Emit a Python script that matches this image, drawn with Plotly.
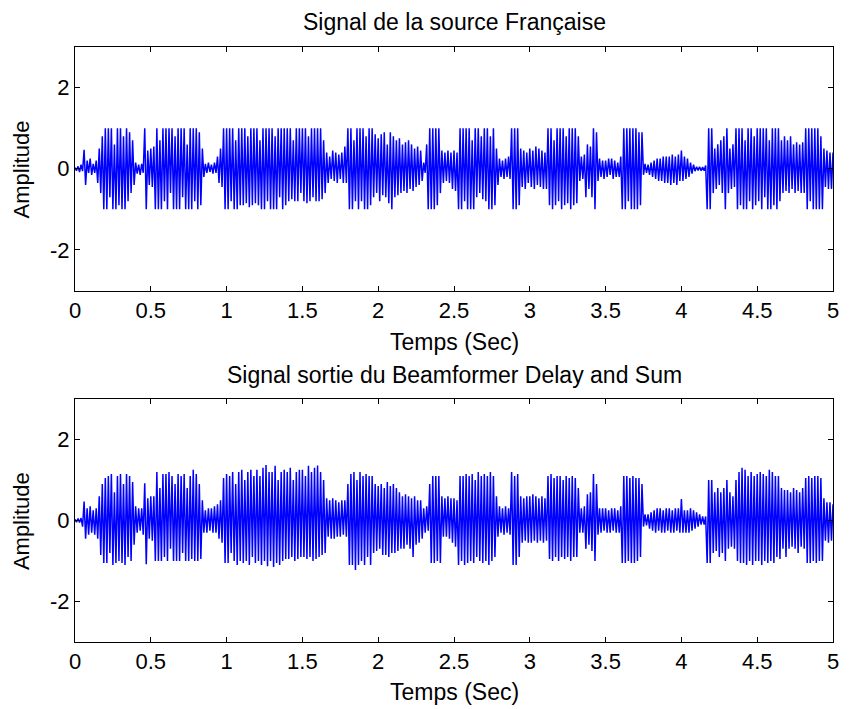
import numpy as np
import plotly.graph_objects as go
from plotly.subplots import make_subplots

# Time axis (seconds), one peak value every 0.01 s
t_step = 0.01
n_pts = 501

# Peak values read from "Signal de la source Française" (one row = 0.1 s)
source_signal = [
    0.03, -0.05, 0.06, -0.08, 0.10, -0.06, 0.47, -0.40, 0.20, -0.10,
    0.25, -0.15, 0.12, -0.10, 0.20, -0.35, 0.50, -0.60, 0.80, -1.0,
    1.0, -1.0, 1.0, -0.7, 1.0, -1.0, 0.6, -1.0, 1.0, -0.9,
    1.0, -1.0, 0.8, -1.0, 1.0, -0.8, 0.9, -0.6, 0.7, -0.4,
    0.15, -0.12, 0.10, -0.15, 0.12, -0.10, 1.0, -1.0, 0.45, -0.40,
    0.50, -0.45, 0.55, -1.0, 1.0, -1.0, 0.7, -1.0, 1.0, -0.8,
    1.0, -1.0, 1.0, -0.6, 1.0, -1.0, 0.8, -1.0, 1.0, -1.0,
    1.0, -0.7, 1.0, -1.0, 0.6, -1.0, 1.0, -1.0, 1.0, -0.8,
    1.0, -1.0, 0.9, -0.9, 0.5, -0.2, 0.12, -0.10, 0.15, -0.08,
    0.10, -0.12, 0.15, -0.10, 0.30, -0.35, 0.50, -0.45, 1.0, -1.0,
    1.0, -1.0, 1.0, -0.8, 1.0, -1.0, 0.7, -1.0, 1.0, -0.9,
    1.0, -0.9, 1.0, -0.85, 0.8, -0.95, 1.0, -0.9, 1.0, -0.85,
    1.0, -0.9, 0.7, -1.0, 1.0, -1.0, 1.0, -0.8, 1.0, -1.0,
    1.0, -1.0, 0.8, -1.0, 1.0, -0.7, 1.0, -1.0, 1.0, -0.9,
    1.0, -0.8, 1.0, -0.75, 0.7, -0.8, 1.0, -0.8, 1.0, -0.6,
    1.0, -0.8, 1.0, -0.85, 0.8, -0.8, 1.0, -0.7, 1.0, -0.8,
    1.0, -0.8, 1.0, -0.75, 0.7, -0.6, 0.4, -0.35, 0.30, -0.25,
    0.45, -0.30, 0.40, -0.35, 0.35, -0.25, 0.40, -0.35, 0.55, -0.35,
    1.0, -1.0, 1.0, -1.0, 0.7, -0.8, 1.0, -1.0, 1.0, -0.8,
    1.0, -1.0, 0.8, -1.0, 1.0, -0.9, 1.0, -0.7, 0.85, -0.6,
    0.75, -0.8, 0.85, -0.65, 0.9, -0.7, 0.6, -0.85, 0.9, -1.0,
    0.8, -0.7, 0.7, -0.65, 0.75, -0.6, 0.6, -0.55, 0.65, -0.6,
    0.7, -0.5, 0.6, -0.55, 0.5, -0.45, 0.55, -0.4, 0.45, -0.3,
    0.15, -0.10, 0.6, -1.0, 1.0, -1.0, 1.0, -1.0, 1.0, -0.9,
    1.0, -0.6, 0.45, -0.35, 0.40, -0.30, 0.45, -0.35, 0.40, -0.50,
    0.45, -0.55, 0.40, -1.0, 1.0, -1.0, 1.0, -0.8, 1.0, -1.0,
    1.0, -1.0, 0.7, -1.0, 1.0, -0.7, 1.0, -0.6, 0.8, -0.75,
    1.0, -0.8, 1.0, -1.0, 0.8, -1.0, 1.0, -0.9, 0.5, -0.4,
    0.25, -0.20, 0.20, -0.25, 0.25, -0.20, 0.30, -0.25, 1.0, -1.0,
    1.0, -1.0, 1.0, -0.9, 0.5, -0.45, 0.45, -0.5, 0.40, -0.35,
    0.50, -0.45, 0.45, -0.50, 0.55, -0.40, 0.50, -0.45, 0.45, -0.50,
    0.40, -0.50, 1.0, -0.9, 1.0, -1.0, 0.7, -0.9, 1.0, -0.8,
    1.0, -1.0, 1.0, -0.9, 0.8, -0.85, 1.0, -1.0, 1.0, -0.9,
    1.0, -0.85, 0.8, -0.3, 0.30, -0.25, 0.35, -0.7, 0.6, -0.5,
    0.55, -0.7, 1.0, -1.0, 0.9, -0.3, 0.25, -0.20, 0.20, -0.25,
    0.20, -0.20, 0.25, -0.15, 0.25, -0.25, 0.20, -0.20, 0.15, -0.20,
    0.30, -1.0, 1.0, -1.0, 1.0, -0.8, 1.0, -1.0, 1.0, -1.0,
    1.0, -1.0, 0.9, -0.9, 0.9, -0.15, 0.12, -0.10, 0.10, -0.15,
    0.15, -0.2, 0.2, -0.25, 0.25, -0.3, 0.25, -0.3, 0.3, -0.35,
    0.3, -0.35, 0.3, -0.4, 0.35, -0.35, 0.3, -0.4, 0.35, -0.3,
    0.45, -0.3, 0.3, -0.25, 0.25, -0.2, 0.15, -0.12, 0.10, -0.06,
    0.05, -0.04, 0.05, -0.05, 0.04, -0.05, 0.08, -1.0, 1.0, -1.0,
    1.0, -0.6, 0.5, -0.5, 0.6, -0.4, 0.7, -0.6, 0.8, -1.0,
    1.0, -0.6, 0.5, -0.5, 0.6, -0.45, 1.0, -1.0, 1.0, -0.9,
    1.0, -1.0, 0.7, -1.0, 1.0, -0.8, 1.0, -1.0, 0.8, -0.9,
    1.0, -0.8, 1.0, -1.0, 1.0, -0.7, 1.0, -1.0, 0.7, -1.0,
    1.0, -0.9, 1.0, -1.0, 1.0, -0.8, 0.7, -0.6, 0.8, -0.55,
    0.7, -0.6, 0.8, -0.5, 0.6, -0.6, 0.65, -0.55, 0.6, -0.6,
    0.65, -0.6, 1.0, -1.0, 1.0, -0.8, 1.0, -1.0, 1.0, -1.0,
    1.0, -1.0, 0.8, -1.0, 0.5, -0.45, 0.45, -0.5, 0.40, -0.50,
    0.40,
]

# Peak values read from "Signal sortie du Beamformer Delay and Sum" (one row = 0.1 s)
beamformer_signal = [
    0.03, -0.04, 0.05, -0.05, 0.06, -0.15, 0.47, -0.45, 0.30, -0.35,
    0.35, -0.30, 0.25, -0.35, 0.30, -0.45, 0.60, -0.85, 0.90, -1.05,
    1.05, -1.05, 1.10, -0.8, 1.15, -1.10, 0.7, -1.05, 1.10, -1.0,
    1.15, -1.05, 0.9, -1.10, 1.15, -0.9, 1.10, -1.0, 0.95, -0.6,
    0.35, -0.30, 0.30, -0.25, 0.30, -0.35, 0.92, -1.08, 0.55, -0.45,
    0.60, -0.50, 0.60, -1.0, 1.20, -1.0, 0.8, -1.0, 1.15, -0.9,
    1.15, -1.0, 1.20, -0.7, 1.10, -1.0, 0.9, -1.0, 1.15, -1.0,
    1.10, -0.8, 1.15, -1.0, 0.8, -1.0, 1.10, -0.95, 1.25, -1.0,
    1.15, -1.0, 0.9, -0.95, 0.5, -0.30, 0.25, -0.30, 0.30, -0.25,
    0.30, -0.30, 0.35, -0.30, 0.40, -0.45, 0.50, -0.55, 1.05, -1.05,
    1.15, -1.05, 1.10, -0.8, 1.20, -1.0, 0.9, -1.10, 1.20, -1.0,
    1.25, -1.05, 1.0, -1.0, 1.20, -1.10, 1.25, -0.9, 1.10, -1.05,
    1.25, -1.0, 1.10, -1.10, 1.30, -1.0, 1.37, -1.13, 1.20, -1.0,
    1.20, -1.15, 1.35, -1.05, 1.0, -1.10, 1.20, -1.0, 1.25, -0.95,
    1.20, -0.95, 1.30, -0.90, 1.0, -1.0, 1.20, -0.95, 1.25, -0.9,
    1.25, -0.90, 1.10, -0.95, 1.35, -0.9, 1.20, -1.0, 1.30, -0.95,
    1.36, -0.90, 1.20, -0.85, 1.0, -0.8, 0.55, -0.40, 0.50, -0.45,
    0.55, -0.45, 0.50, -0.40, 0.45, -0.40, 0.50, -0.35, 0.50, -0.40,
    0.90, -1.10, 1.15, -1.10, 1.20, -1.22, 1.0, -1.10, 1.20, -1.0,
    1.10, -1.10, 1.15, -0.9, 1.10, -1.10, 1.10, -0.80, 0.90, -0.75,
    0.85, -0.70, 0.90, -0.85, 0.80, -0.85, 0.95, -0.90, 0.85, -0.80,
    0.90, -0.80, 0.80, -0.75, 0.70, -0.70, 0.60, -0.70, 0.65, -0.60,
    0.60, -0.70, 0.55, -0.90, 0.60, -0.60, 0.50, -0.55, 0.50, -0.45,
    0.30, -0.30, 0.35, -0.25, 0.9, -1.05, 1.10, -1.05, 1.10, -1.0,
    1.10, -1.05, 0.60, -0.40, 0.55, -0.40, 0.60, -0.45, 0.55, -0.55,
    0.55, -0.65, 0.50, -1.10, 1.10, -1.0, 1.10, -1.10, 1.15, -1.05,
    1.10, -1.0, 1.15, -1.05, 1.0, -0.9, 1.20, -1.0, 1.10, -1.05,
    1.15, -1.0, 1.10, -1.10, 1.20, -1.0, 1.10, -0.9, 0.60, -0.40,
    0.35, -0.30, 0.30, -0.35, 0.35, -0.30, 0.30, -0.35, 1.20, -1.10,
    1.10, -1.10, 1.15, -0.9, 0.60, -0.55, 0.55, -0.50, 0.60, -0.55,
    0.60, -0.55, 0.65, -0.50, 0.60, -0.55, 0.55, -0.50, 0.60, -0.55,
    0.55, -0.50, 1.10, -0.95, 1.15, -1.0, 1.05, -0.9, 1.10, -1.0,
    1.10, -0.90, 1.0, -0.95, 1.10, -0.90, 1.05, -1.0, 1.10, -0.9,
    1.05, -0.90, 0.80, -0.30, 0.30, -0.30, 0.35, -0.70, 0.65, -0.60,
    0.70, -0.75, 1.15, -1.0, 0.9, -0.35, 0.30, -0.30, 0.30, -0.25,
    0.30, -0.30, 0.25, -0.30, 0.30, -0.25, 0.30, -0.30, 0.25, -0.30,
    0.35, -1.05, 1.10, -1.05, 1.10, -1.0, 1.05, -1.05, 1.10, -1.05,
    1.05, -1.0, 1.05, -0.90, 0.90, -0.15, 0.15, -0.12, 0.15, -0.20,
    0.20, -0.25, 0.25, -0.30, 0.30, -0.25, 0.30, -0.30, 0.25, -0.30,
    0.30, -0.25, 0.30, -0.30, 0.25, -0.30, 0.30, -0.25, 0.30, -0.30,
    0.53, -0.30, 0.25, -0.30, 0.25, -0.30, 0.30, -0.25, 0.25, -0.20,
    0.20, -0.15, 0.15, -0.10, 0.10, -0.10, 0.10, -1.05, 1.0, -1.05,
    1.0, -0.80, 0.70, -0.75, 0.80, -0.90, 0.70, -0.80, 0.80, -1.0,
    1.0, -0.70, 0.70, -0.65, 0.60, -0.70, 1.0, -1.0, 1.20, -1.05,
    1.30, -1.05, 1.25, -1.10, 1.10, -1.0, 1.20, -1.10, 1.10, -1.0,
    1.15, -1.0, 1.20, -1.10, 1.15, -1.0, 1.10, -1.05, 1.25, -1.0,
    1.20, -1.05, 1.10, -0.90, 1.10, -0.95, 0.80, -0.70, 0.75, -0.90,
    0.75, -0.70, 0.70, -0.65, 0.80, -0.70, 0.75, -0.80, 0.70, -0.65,
    0.80, -0.70, 1.05, -1.05, 1.10, -1.05, 1.05, -1.0, 1.10, -1.05,
    1.10, -1.0, 1.05, -1.0, 0.55, -0.50, 0.45, -0.55, 0.45, -0.50,
    0.40,
]

x_ticks = [0, 0.5, 1, 1.5, 2, 2.5, 3, 3.5, 4, 4.5, 5]
x_tick_labels = ["0", "0.5", "1", "1.5", "2", "2.5", "3", "3.5", "4", "4.5", "5"]
y_ticks = [-2, 0, 2]
y_tick_labels = ["-2", "0", "2"]

titles = ["Signal de la source Française", "Signal sortie du Beamformer Delay and Sum"]
x_title = "Temps (Sec)"
y_title = "Amplitude"

time = np.arange(n_pts) * t_step

FONT = "Liberation Sans, Arial, sans-serif"
FS_TICK = 22
FS_TITLE = 23

fig = make_subplots(rows=2, cols=1, vertical_spacing=0.0)

for row, sig in ((1, source_signal), (2, beamformer_signal)):
    fig.add_trace(
        go.Scatter(x=time, y=sig, mode="lines",
                   line=dict(color="#0000ff", width=1.5), showlegend=False,
                   hoverinfo="skip"),
        row=row, col=1)

# Plot area: x 75..839 px, y 47..642 px
H_AREA = 595.0
top_dom = [(642 - 290.5) / H_AREA, 1.0]
bot_dom = [0.0, (642 - 399) / H_AREA]

axis_common = dict(
    showline=True, linecolor="black", linewidth=1, mirror="ticks",
    ticks="inside", ticklen=5, tickcolor="black", showgrid=False,
    zeroline=False, tickfont=dict(family=FONT, size=FS_TICK, color="black"),
)

fig.update_layout(
    width=851, height=709,
    margin=dict(l=75, r=12, t=47, b=67),
    paper_bgcolor="white", plot_bgcolor="white",
    font=dict(family=FONT, size=FS_TICK, color="black"),
    xaxis=dict(domain=[0, 1], range=[0, 5], tickvals=x_ticks, ticktext=x_tick_labels,
               anchor="y", **axis_common),
    yaxis=dict(domain=top_dom, range=[-3, 3], tickvals=y_ticks, ticktext=y_tick_labels,
               anchor="x", **axis_common),
    xaxis2=dict(domain=[0, 1], range=[0, 5], tickvals=x_ticks, ticktext=x_tick_labels,
                anchor="y2", **axis_common),
    yaxis2=dict(domain=bot_dom, range=[-3, 3], tickvals=y_ticks, ticktext=y_tick_labels,
                anchor="x2", **axis_common),
)

def py(Y):
    return (642 - Y) / H_AREA

def px(X):
    return (X - 75) / 764.0

annotations = []
for title, ty, xy, ly in ((titles[0], 22, 342, 169), (titles[1], 375, 692, 520.7)):
    annotations.append(dict(text=title, x=px(457), y=py(ty), xref="paper", yref="paper",
                            xanchor="center", yanchor="middle", showarrow=False,
                            font=dict(family=FONT, size=FS_TITLE, color="black")))
    annotations.append(dict(text=x_title, x=px(457), y=py(xy), xref="paper", yref="paper",
                            xanchor="center", yanchor="middle", showarrow=False,
                            font=dict(family=FONT, size=FS_TITLE, color="black")))
    annotations.append(dict(text=y_title, x=px(21), y=py(ly), xref="paper", yref="paper",
                            xanchor="center", yanchor="middle", showarrow=False, textangle=-90,
                            font=dict(family=FONT, size=FS_TICK, color="black")))
fig.update_layout(annotations=annotations)

fig.write_html("out.html")
